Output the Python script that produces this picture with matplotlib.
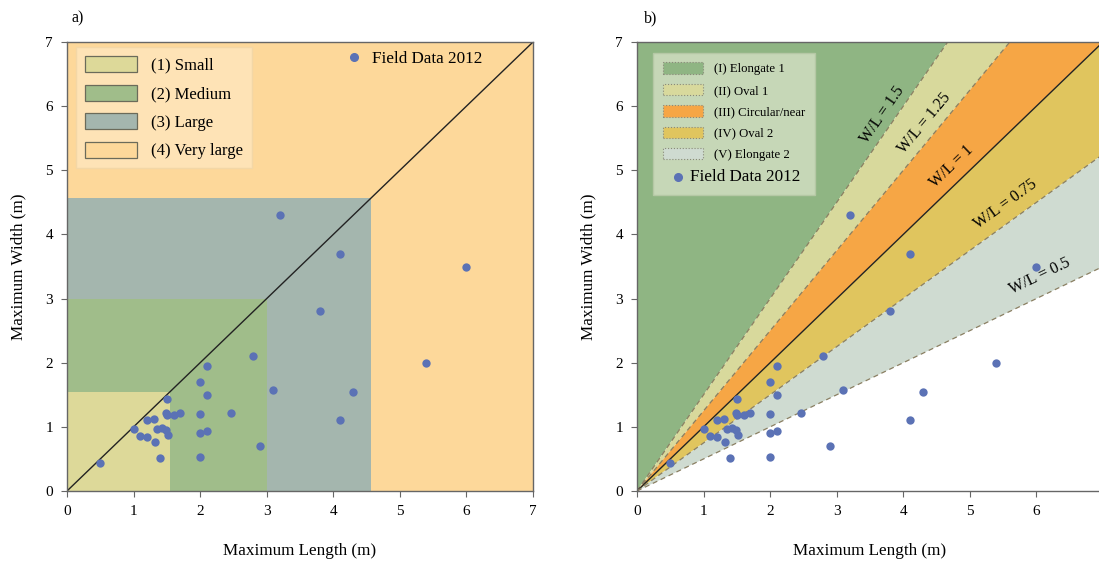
import numpy as np
import matplotlib
matplotlib.use("Agg")
import matplotlib.pyplot as plt
from matplotlib.patches import Rectangle, Patch
from matplotlib.lines import Line2D

plt.rcParams['font.family'] = ['Liberation Serif', 'DejaVu Serif']

# ---------------- data ----------------
length = [0.5, 1.0, 1.1, 1.2, 1.2, 1.3, 1.32, 1.35, 1.4, 1.42, 1.49, 1.51,
          1.5, 1.49, 1.5, 1.6, 1.7, 2.0, 2.0, 2.1, 2.1, 2.0, 2.1, 2.0,
          2.46, 2.8, 2.9, 3.1, 3.2, 4.1, 3.8, 6.0, 5.4, 4.3, 4.1]
width = [0.44, 0.97, 0.85, 0.84, 1.10, 1.12, 0.76, 0.96, 0.52, 0.98, 0.95, 0.88,
         1.43, 1.22, 1.19, 1.19, 1.22, 1.20, 1.70, 1.95, 1.50, 0.90, 0.93, 0.53,
         1.21, 2.10, 0.70, 1.57, 4.30, 3.70, 2.80, 3.50, 2.00, 1.55, 1.10]

size_labels = ['(1) Small', '(2) Medium', '(3) Large', '(4) Very large']
size_limits = [1.55, 3.0, 4.57, 7.0]
size_colors = ['#DDD999', '#A0BD8A', '#A4B6AE', '#FDD89A']

shape_labels = ['(I) Elongate 1', '(II) Oval 1', '(III) Circular/near',
                '(IV) Oval 2', '(V) Elongate 2']
ratio_bounds = [1.5, 1.25, 1.0, 0.75, 0.5]
ratio_texts = ['W/L = 1.5', 'W/L = 1.25', 'W/L = 1', 'W/L = 0.75', 'W/L = 0.5']
ratio_label_x = [3.69, 4.32, 4.73, 5.53, 6.05]
shape_colors = ['#8FB583', '#D8D99C', '#F6A645', '#E0C55E', '#CFDBD1']

ticks = [0, 1, 2, 3, 4, 5, 6, 7]
field_label = 'Field Data 2012'
point_color = '#5B72B5'

# ---------------- figure ----------------
fig = plt.figure(figsize=(10.99, 5.61), dpi=100)
axa = fig.add_axes([67/1099, 70/561, 466/1099, 449/561])
axb = fig.add_axes([637/1099, 70/561, 466/1099, 449/561])


def style(ax):
    ax.set_xlim(0, 7)
    ax.set_ylim(0, 7)
    ax.set_xticks(ticks)
    ax.set_yticks(ticks)
    ax.tick_params(direction='out', length=4, width=0.8, color='#666666',
                   labelsize=11, pad=6)
    for s in ax.spines.values():
        s.set_color('#666666')
        s.set_linewidth(1.0)
    ax.set_xlabel('Maximum Length (m)', fontsize=12.3, labelpad=18)
    ax.set_ylabel('Maximum Width (m)', fontsize=12.3, labelpad=14)


# ---- panel a ----
for lim, col in zip(size_limits[::-1], size_colors[::-1]):
    axa.add_patch(Rectangle((0, 0), lim, lim, facecolor=col, edgecolor='none', zorder=0))
axa.plot([0, 7], [0, 7], color='#222222', lw=1.0, zorder=2)
axa.scatter(length, width, s=36, color=point_color, zorder=3, linewidths=0)
style(axa)
handles_a = [Patch(facecolor=c, edgecolor='#6b6b5a', linewidth=0.9, label=l)
             for c, l in zip(size_colors, size_labels)]
leg_a = axa.legend(handles=handles_a, loc='upper left', bbox_to_anchor=(0.02, 0.989),
                   fontsize=12, frameon=True, fancybox=False, handlelength=3.1,
                   handleheight=1.1, labelspacing=0.65, handletextpad=0.85,
                   borderpad=0.55, borderaxespad=0.0,
                   facecolor='#FEE3B6', edgecolor='#F3D7A6', framealpha=1)
axa.add_artist(leg_a)
fd = Line2D([], [], marker='o', linestyle='none', color=point_color, markersize=5.5,
            label=field_label)
axa.legend(handles=[fd], loc='upper right', bbox_to_anchor=(0.905, 0.995), fontsize=12.3,
           frameon=False, handlelength=1.0, handletextpad=0.5, borderaxespad=0.0)
axa.text(0.01, 1.035, 'a)', transform=axa.transAxes, fontsize=11.5, ha='left', va='bottom')

# ---- panel b ----
x = np.linspace(0, 7, 400)
upper = [None] + ratio_bounds
lower = ratio_bounds + [0.0]
for hi, lo, col in zip(upper, lower, shape_colors):
    y_hi = np.full_like(x, 7.0) if hi is None else np.minimum(hi * x, 7.0)
    y_lo = np.minimum(lo * x, 7.0)
    axb.fill_between(x, y_lo, y_hi, facecolor=col, edgecolor='none', zorder=0)
for r in ratio_bounds:
    if r == 1.0:
        axb.plot(x, r * x, color='#222222', lw=1.0, zorder=2)
    else:
        axb.plot(x, r * x, color='#8a7f62', lw=0.9, ls=(0, (4, 3)), zorder=2)
for r, t, lx in zip(ratio_bounds, ratio_texts, ratio_label_x):
    axb.text(lx, r * lx + 0.33, t, fontsize=11.5, ha='center', va='center',
             rotation=np.degrees(np.arctan(r)), rotation_mode='anchor',
             transform_rotates_text=True, zorder=4)
axb.scatter(length, width, s=36, color=point_color, zorder=3, linewidths=0)
style(axb)
handles_b = [Patch(facecolor=c, edgecolor='#8a8a7a', linewidth=0.8, linestyle=':', label=l)
             for c, l in zip(shape_colors, shape_labels)]
handles_b.append(Patch(facecolor='none', edgecolor='none', label=' '))  # row reserved for Field Data
leg_b = axb.legend(handles=handles_b, loc='upper left', bbox_to_anchor=(0.035, 0.976),
                   fontsize=9.2, frameon=True, fancybox=False, handlelength=3.1,
                   handleheight=1.0, labelspacing=0.65, handletextpad=0.9,
                   borderpad=0.75, borderaxespad=0.0,
                   facecolor='#C6D7B7', edgecolor='#B5C8A5', framealpha=1)
leg_b.get_texts()[-1].set_fontsize(12.5)
leg_b.set_zorder(5)
axb.text(0.015, 1.035, 'b)', transform=axb.transAxes, fontsize=11.5, ha='left', va='bottom')

# place the Field Data entry in the reserved legend row
fig.canvas.draw()
bb = leg_b.get_texts()[-1].get_window_extent()
yc_axes = axb.transAxes.inverted().transform((0, (bb.y0 + bb.y1) / 2))[1]
axb.plot([0.088], [yc_axes], transform=axb.transAxes, marker='o', markersize=5.5,
         color=point_color, linestyle='none', zorder=6, clip_on=False)
axb.text(0.113, yc_axes, field_label, transform=axb.transAxes, fontsize=12.3,
         ha='left', va='center', zorder=6)

fig.savefig('out.png', dpi=100)
